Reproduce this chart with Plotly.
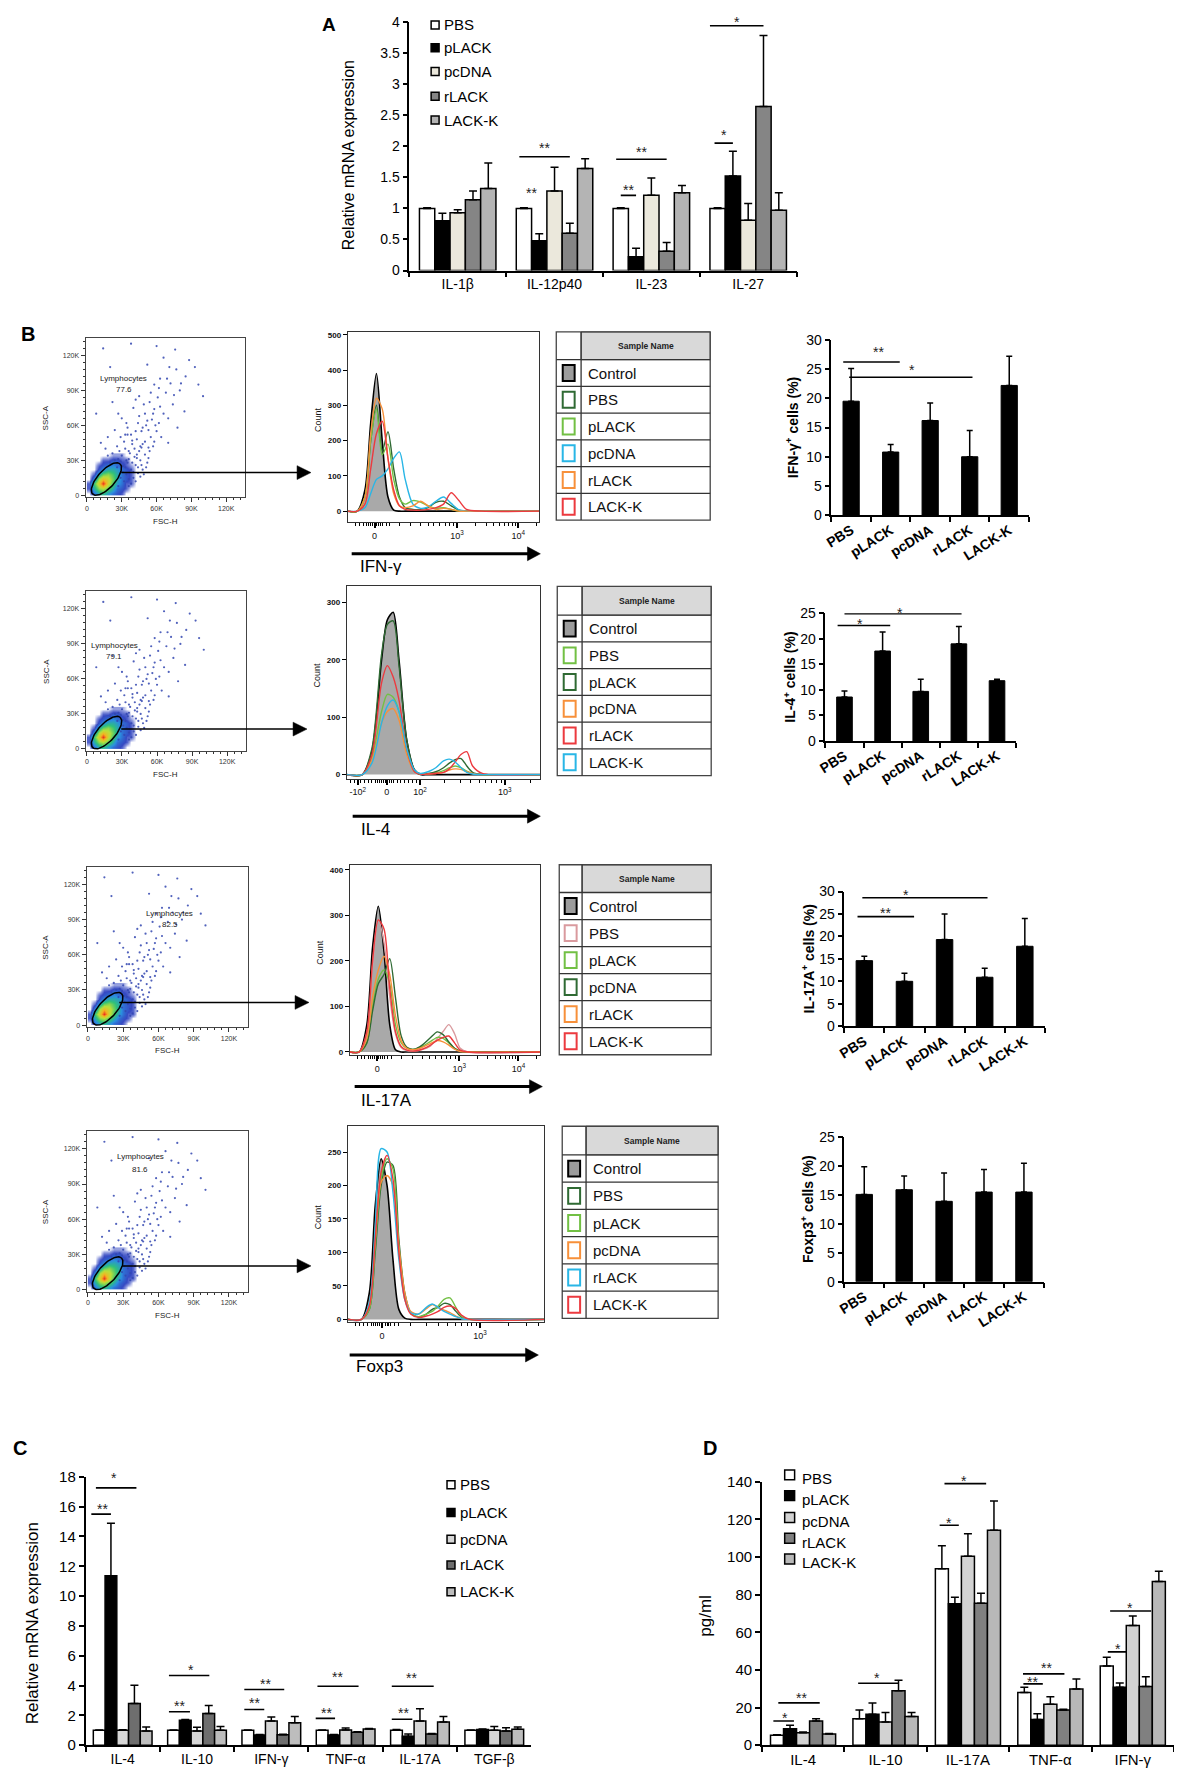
import numpy as np
import plotly.graph_objects as go

PAGE_W, PAGE_H = 1182, 1785
OFF = 8  # default page margin of the html body
W, H = PAGE_W - 2 * OFF, PAGE_H - 2 * OFF
FONT = "Liberation Sans, Arial, Helvetica, sans-serif"

groups = ["PBS", "pLACK", "pcDNA", "rLACK", "LACK-K"]

# ---------------- Panel A data ----------------
a_cats = ["IL-1β", "IL-12p40", "IL-23", "IL-27"]
a_pbs = [1.00, 1.00, 1.00, 1.00]
a_pbs_err = [0.01, 0.01, 0.01, 0.01]
a_plack = [0.80, 0.48, 0.22, 1.52]
a_plack_err = [0.12, 0.11, 0.14, 0.40]
a_pcdna = [0.93, 1.28, 1.21, 0.81]
a_pcdna_err = [0.05, 0.38, 0.28, 0.27]
a_rlack = [1.14, 0.60, 0.31, 2.64]
a_rlack_err = [0.14, 0.16, 0.14, 1.14]
a_lackk = [1.32, 1.64, 1.25, 0.97]
a_lackk_err = [0.41, 0.16, 0.12, 0.28]

# ---------------- Panel B bar data ----------------
b_ifng = [19.5, 10.8, 16.2, 10.0, 22.2]
b_ifng_err = [5.6, 1.3, 3.0, 4.5, 5.0]
b_il4 = [8.6, 17.6, 9.7, 19.0, 11.8]
b_il4_err = [1.2, 3.7, 2.4, 3.4, 0.3]
b_il17 = [14.6, 10.0, 19.3, 10.9, 17.8]
b_il17_err = [1.0, 1.8, 5.7, 2.0, 6.2]
b_foxp3 = [15.1, 15.9, 13.9, 15.5, 15.5]
b_foxp3_err = [4.8, 2.4, 4.9, 3.9, 5.0]

# ---------------- Panel B flow plots ----------------
gate_pct = ["77.6", "79.1", "82.5", "81.6"]
markers = ["IFN-γ", "IL-4", "IL-17A", "Foxp3"]

# scattered events (FSC-H, SSC-A in K)
dot_x = [32, 34, 36, 38, 35, 40, 42, 44, 30, 37, 41, 46, 48, 45, 50, 33, 39, 52, 28, 26,
         43, 48, 53, 55, 47, 58, 51, 60, 44, 56, 62, 38, 35, 64, 66, 58, 50, 70, 54, 61,
         68, 74, 72, 80, 63, 77, 85, 58, 45, 40, 88, 66, 93, 52, 30, 22, 20, 14, 38, 60,
         76, 96, 84, 100, 70, 78, 24, 18, 12, 8, 31, 36, 29, 43, 47, 39, 27, 33,
         27, 29, 31, 33, 36, 38, 40, 42, 44, 46, 34, 39, 43, 47, 49, 51, 53, 36, 41, 46,
         50, 54, 57, 32, 29, 35, 42, 48, 53, 59, 45, 52, 57, 63, 49, 42, 55, 62, 69, 75,
         81, 71, 34, 27, 24, 22, 20, 18, 26, 16]
dot_y = [12, 18, 8, 22, 28, 15, 26, 19, 34, 36, 33, 30, 22, 38, 35, 40, 44, 28, 38, 42,
         48, 44, 41, 50, 55, 46, 60, 55, 62, 65, 62, 52, 58, 50, 70, 74, 70, 66, 80, 84,
         88, 78, 96, 90, 100, 108, 102, 95, 85, 75, 116, 118, 110, 112, 66, 80, 110, 126, 130, 128,
         125, 95, 72, 85, 45, 58, 56, 50, 45, 70, 25, 31, 29, 35, 41, 47, 31, 52,
         8, 15, 20, 24, 14, 10, 20, 12, 24, 16, 30, 28, 32, 26, 18, 24, 32, 38, 40, 42,
         46, 38, 42, 46, 50, 52, 55, 58, 56, 60, 68, 64, 70, 76, 78, 82, 88, 92, 100, 86,
         96, 110, 62, 70, 30, 36, 28, 34, 24, 40]
# dense core (density grid, FSC-H x SSC-A in K)
core_x = [2, 6, 10, 14, 18, 22, 26, 30, 34, 38, 42]
core_y = [2, 6, 10, 14, 18, 22, 26, 30, 34]
core_z = [
    [0, 2, 3.5, 4, 3, 2, 1.5, 1, 0, 0, 0],
    [1, 3.5, 5.5, 6, 5, 3.5, 2, 1.5, 1, 0, 0],
    [1, 4.5, 7, 9.8, 6.5, 4.5, 3, 2, 1, 1, 0],
    [0, 2.5, 6, 7.5, 6.5, 5, 3.5, 2, 1.5, 1, 0],
    [0, 1, 3.5, 5, 5.5, 4.5, 3.5, 2, 1.5, 1, 0],
    [0, 0, 1.5, 2.5, 3.5, 3.5, 3, 2, 1.5, 1, 0],
    [0, 0, 1, 1.5, 2, 2.5, 2, 1.5, 1, 0.5, 0],
    [0, 0, 0, 1, 1, 1.5, 1.5, 1, 1, 0, 0],
    [0, 0, 0, 0, 0, 0.5, 0.5, 0.5, 0, 0, 0],
]

# histograms (x in display units 0-100, counts)
h1_u = [0, 5, 9, 12, 15, 18, 21, 24, 27, 30, 34, 38, 42, 46, 50, 54, 58, 62, 70, 100]
h1_control = [0, 0, 60, 250, 390, 200, 40, 3, 0, 0, 0, 0, 0, 0, 0, 0, 0, 0, 0, 0]
h1_pbs = [0, 0, 40, 200, 300, 170, 225, 120, 40, 10, 5, 5, 10, 25, 28, 15, 3, 0, 0, 0]
h1_plack = [0, 0, 40, 200, 290, 160, 190, 90, 35, 20, 30, 26, 15, 8, 10, 5, 0, 0, 0, 0]
h1_pcdna = [0, 0, 10, 50, 90, 100, 120, 150, 168, 90, 20, 8, 12, 28, 40, 22, 4, 0, 0, 0]
h1_rlack = [0, 0, 40, 220, 320, 290, 150, 50, 15, 10, 15, 28, 15, 5, 8, 5, 0, 0, 0, 0]
h1_lackk = [0, 0, 20, 120, 220, 255, 150, 60, 15, 5, 3, 3, 5, 10, 20, 52, 30, 5, 0, 0]

h2_u = [0, 8, 13, 18, 21, 24, 27, 31, 35, 38, 42, 46, 50, 53, 56, 59, 62, 65, 70, 100]
h2_control = [0, 0, 40, 200, 270, 283, 200, 60, 8, 0, 0, 0, 0, 0, 0, 0, 0, 0, 0, 0]
h2_pbs = [0, 0, 30, 110, 140, 135, 110, 40, 6, 1, 1, 3, 7, 12, 15, 12, 6, 2, 0, 0]
h2_plack = [0, 0, 45, 210, 262, 268, 190, 60, 8, 1, 2, 5, 12, 20, 26, 28, 15, 4, 0, 0]
h2_pcdna = [0, 0, 25, 90, 110, 115, 95, 35, 5, 1, 1, 2, 4, 8, 10, 9, 5, 2, 0, 0]
h2_rlack = [0, 0, 35, 160, 190, 170, 130, 45, 5, 1, 1, 2, 4, 10, 22, 35, 40, 15, 2, 0]
h2_lackk = [0, 0, 20, 90, 120, 130, 110, 45, 8, 2, 5, 12, 24, 27, 22, 12, 4, 1, 0, 0]

h3_u = [0, 5, 9, 12, 15, 18, 21, 24, 27, 30, 34, 38, 42, 46, 49, 52, 55, 58, 62, 100]
h3_control = [0, 0, 60, 230, 320, 220, 60, 5, 0, 0, 0, 0, 0, 0, 0, 0, 0, 0, 0, 0]
h3_pbs = [0, 0, 40, 190, 290, 240, 120, 40, 10, 3, 2, 5, 12, 30, 45, 60, 40, 8, 0, 0]
h3_plack = [0, 0, 20, 100, 160, 180, 150, 60, 20, 8, 6, 12, 22, 32, 30, 20, 8, 2, 0, 0]
h3_pcdna = [0, 0, 20, 90, 150, 170, 205, 120, 35, 10, 6, 15, 30, 44, 38, 22, 8, 2, 0, 0]
h3_rlack = [0, 0, 30, 120, 180, 210, 170, 80, 25, 8, 5, 10, 18, 25, 22, 15, 6, 1, 0, 0]
h3_lackk = [0, 0, 45, 200, 290, 270, 140, 45, 12, 4, 2, 6, 14, 26, 32, 35, 20, 4, 0, 0]

h4_u = [0, 7, 11, 14, 17, 20, 23, 26, 29, 32, 36, 40, 43, 46, 49, 52, 55, 58, 62, 100]
h4_control = [0, 0, 40, 170, 240, 200, 90, 15, 2, 0, 0, 0, 0, 0, 0, 0, 0, 0, 0, 0]
h4_pbs = [0, 0, 15, 100, 200, 235, 230, 120, 40, 10, 4, 8, 15, 18, 24, 22, 12, 3, 0, 0]
h4_plack = [0, 0, 15, 110, 210, 240, 225, 110, 35, 10, 4, 8, 12, 20, 30, 32, 18, 4, 0, 0]
h4_pcdna = [0, 0, 20, 120, 205, 215, 200, 110, 40, 12, 8, 16, 22, 18, 14, 10, 5, 1, 0, 0]
h4_rlack = [0, 0, 25, 140, 255, 250, 190, 90, 30, 10, 8, 18, 23, 18, 12, 8, 4, 1, 0, 0]
h4_lackk = [0, 0, 20, 120, 220, 245, 210, 100, 30, 8, 3, 5, 8, 12, 18, 20, 16, 6, 0, 0]

# ---------------- Panel C data ----------------
c_cats = ["IL-4", "IL-10", "IFN-γ", "TNF-α", "IL-17A", "TGF-β"]
c_pbs = [1.0, 1.0, 1.0, 1.0, 1.0, 1.0]
c_pbs_err = [0.02, 0.02, 0.02, 0.02, 0.05, 0.02]
c_plack = [11.36, 1.67, 0.68, 0.68, 0.60, 1.05]
c_plack_err = [3.52, 0.06, 0.04, 0.04, 0.15, 0.03]
c_pcdna = [1.0, 0.95, 1.63, 1.02, 1.63, 1.0]
c_pcdna_err = [0.03, 0.25, 0.26, 0.13, 0.82, 0.25]
c_rlack = [2.80, 2.12, 0.70, 0.87, 0.75, 0.95]
c_rlack_err = [1.23, 0.55, 0.03, 0.03, 0.03, 0.22]
c_lackk = [0.95, 1.0, 1.51, 1.08, 1.56, 1.07]
c_lackk_err = [0.27, 0.25, 0.41, 0.05, 0.36, 0.15]

# ---------------- Panel D data ----------------
d_cats = ["IL-4", "IL-10", "IL-17A", "TNF-α", "IFN-γ"]
d_pbs = [5.3, 14.1, 93.8, 28.0, 42.1]
d_pbs_err = [0.3, 4.6, 12.2, 2.8, 4.6]
d_plack = [8.8, 16.4, 75.2, 13.7, 30.8]
d_plack_err = [1.8, 6.0, 3.5, 3.0, 2.3]
d_pcdna = [6.7, 12.3, 100.4, 21.8, 63.6]
d_pcdna_err = [0.3, 5.1, 12.0, 3.9, 5.1]
d_rlack = [12.9, 28.9, 75.5, 18.7, 31.2]
d_rlack_err = [1.2, 5.6, 5.3, 0.4, 5.2]
d_lackk = [6.0, 15.3, 114.3, 29.9, 87.0]
d_lackk_err = [0.3, 2.1, 15.5, 5.3, 5.5]

# ======================================================================
BARGAP = 0.21
BW = (1 - BARGAP) / 5

fig = go.Figure()
layout = dict(width=W, height=H, margin=dict(l=0, r=0, t=0, b=0),
              paper_bgcolor="white", plot_bgcolor="white", showlegend=False,
              barmode="group", bargap=BARGAP, bargroupgap=0,
              font=dict(family=FONT, color="black"))
shapes, annots = [], []
geo = {}


def PX(x):  # page px -> paper x
    return (x - OFF) / W


def PY(y):  # page px -> paper y
    return 1 - (y - OFF) / H


def clamp(v):
    return min(1.0, max(0.0, v))


def axn(n, k):
    return k if n == 1 else f"{k}{n}"


def set_axes(n, x0, x1, top, bottom, xo, yo):
    layout["xaxis" if n == 1 else f"xaxis{n}"] = dict(domain=[clamp(PX(x0)), clamp(PX(x1))], anchor=axn(n, "y"), **xo)
    layout["yaxis" if n == 1 else f"yaxis{n}"] = dict(domain=[clamp(PY(bottom)), clamp(PY(top))], anchor=axn(n, "x"), **yo)
    if "range" in yo:
        geo[n] = (top, bottom, yo["range"][0], yo["range"][1])


def ypaper(n, v):
    top, bottom, y0, y1 = geo[n]
    return PY(bottom - (v - y0) / (y1 - y0) * (bottom - top))


def text(x, y, s, size, bold=False, angle=0, xanchor="center", yanchor="middle", color="black"):
    annots.append(dict(x=PX(x), y=PY(y), xref="paper", yref="paper",
                       text=f"<b>{s}</b>" if bold else s, showarrow=False,
                       font=dict(family=FONT, size=size, color=color), textangle=angle,
                       xanchor=xanchor, yanchor=yanchor))


def rect_px(x0, y0, x1, y1, fill, line, lw):
    shapes.append(dict(type="rect", xref="paper", yref="paper", x0=PX(x0), x1=PX(x1),
                       y0=PY(y1), y1=PY(y0), fillcolor=fill,
                       line=dict(color=line, width=lw), layer="above"))


def line_px(x0, y0, x1, y1, color="black", lw=1.0):
    shapes.append(dict(type="line", xref="paper", yref="paper", x0=PX(x0), x1=PX(x1),
                       y0=PY(y0), y1=PY(y1), line=dict(color=color, width=lw), layer="above"))


def arrow(x_tail, x_tip, y, width, head_len, head_half):
    line_px(x_tail, y, x_tip - head_len + 1, y, "black", width)
    path = (f"M {PX(x_tip)},{PY(y)} L {PX(x_tip - head_len)},{PY(y - head_half)} "
            f"L {PX(x_tip - head_len)},{PY(y + head_half)} Z")
    shapes.append(dict(type="path", xref="paper", yref="paper", path=path, fillcolor="black",
                       line=dict(color="black", width=0.5), layer="above"))


def star(n, x, ytxt, label, size=14):
    annots.append(dict(x=x, y=ypaper(n, ytxt), xref=axn(n, "x"), yref="paper", text=label,
                       showarrow=False, font=dict(family=FONT, size=size, color="#222"),
                       yanchor="middle", yshift=-4))


def bracket(n, cat, s0, s1, y, ytxt, label, bw, tslot, size=14):
    xa, ya = axn(n, "x"), axn(n, "y")
    shapes.append(dict(type="line", xref=xa, yref=ya, x0=cat + s0 * bw, x1=cat + s1 * bw,
                       y0=y, y1=y, line=dict(color="black", width=1.6)))
    star(n, cat + tslot * bw, ytxt, label, size)


def bar_axes(n, x0, x1, top, bottom, yrange, dtick, xfont=14, yfont=14, xo_extra=None):
    xo = dict(type="category", showline=True, linecolor="black", linewidth=1.5, ticks="outside",
              tickson="boundaries", ticklen=5, tickwidth=1.5, tickcolor="black", showgrid=False,
              zeroline=False, tickfont=dict(family=FONT, size=xfont, color="black"))
    if xo_extra:
        xo.update(xo_extra)
    yo = dict(range=yrange, dtick=dtick, showline=True, linecolor="black", linewidth=1.5,
              ticks="outside", ticklen=5, tickwidth=1.5, tickcolor="black", showgrid=False,
              zeroline=False, tickfont=dict(family=FONT, size=yfont, color="black"))
    set_axes(n, x0, x1, top, bottom, xo, yo)


def grouped_bars(n, cats, series, colors):
    for (vals, errs), col, name in zip(series, colors, groups):
        fig.add_trace(go.Bar(x=cats, y=vals, name=name,
                             marker=dict(color=col, line=dict(color="black", width=1.5)),
                             error_y=dict(type="data", symmetric=False, array=errs,
                                          arrayminus=[0] * len(vals), color="black",
                                          thickness=1.5, width=4),
                             xaxis=axn(n, "x"), yaxis=axn(n, "y")))


def manual_legend(xsq, xtxt, ys, colors, sq, size, dy_sq=0):
    for y, col, name in zip(ys, colors, groups):
        rect_px(xsq - sq / 2, y + dy_sq - sq / 2, xsq + sq / 2, y + dy_sq + sq / 2, col, "black", 1.5)
        text(xtxt, y, name, size, xanchor="left")


# ---------------- Panel A ----------------
a_colors = ["#ffffff", "#000000", "#ebe8dc", "#858585", "#b4b4b4"]
grouped_bars(1, a_cats,
             [(a_pbs, a_pbs_err), (a_plack, a_plack_err), (a_pcdna, a_pcdna_err),
              (a_rlack, a_rlack_err), (a_lackk, a_lackk_err)], a_colors)
bar_axes(1, 404, 794, 13, 264, [0, 4], 0.5, xfont=14, yfont=14)
text(323, 16, "A", 19, bold=True)
text(343, 148, "Relative mRNA expression", 16, angle=-90)
manual_legend(430, 437, [16, 39, 63, 88, 112], a_colors, 8, 15)
for cat, s0, s1, y, yt, lab in [(1, -2.3, 1.0, 1.83, 2.03, "**"), (2, -2.3, 1.0, 1.79, 1.97, "**"),
                                (2, -2.0, -1.0, 1.21, 1.36, "**"), (3, -2.2, -1.0, 2.05, 2.24, "*"),
                                (3, -2.5, 1.0, 3.94, 4.07, "*")]:
    bracket(1, cat, s0, s1, y, yt, lab, BW, (s0 + s1) / 2)
star(1, 1 - 1.5 * BW, 1.32, "**")

# ---------------- Panel B ----------------
text(20, 328, "B", 20, bold=True)
dot_frames = [(78, 239, 332, 493), (78, 240, 588, 749), (79, 242, 866, 1028), (79, 242, 1133, 1295)]
hist_frames = [(342, 535, 326, 518), (341, 536, 583, 777), (344, 536, 864, 1056), (342, 540, 1128, 1326)]
hist_yr = [[-31, 508], [-7, 328], [-6.5, 411], [-4.4, 288.5]]
hist_dt = [100, 100, 100, 50]
hist_major = [([14, 57, 89], ["0", "10<sup>3</sup>", "10<sup>4</sup>"]),
              ([5.7, 20.7, 37.9, 81.6], ["-10<sup>2</sup>", "0", "10<sup>2</sup>", "10<sup>3</sup>"]),
              ([14.4, 57.4, 88.5], ["0", "10<sup>3</sup>", "10<sup>4</sup>"]),
              ([17.4, 67.3], ["0", "10<sup>3</sup>"])]
hist_minor = [
    [4, 6, 8, 10, 11, 12, 13, 15, 16, 17, 18, 20, 22, 27, 33, 38, 42, 45, 48, 51, 53, 55,
     66.6, 72.3, 76.3, 79.4, 81.9, 84, 85.9, 87.5, 98.6],
    [2, 4, 7, 9, 11, 13, 15, 16, 17, 18, 19, 20, 22, 23, 24, 26, 28, 30, 32, 34, 36,
     50.7, 58.5, 64.1, 68.4, 71.9, 74.9, 77.5, 79.7, 95],
    [4, 6, 8, 10, 11, 12, 13, 15, 16, 17, 18, 20, 22, 27, 33, 38, 42, 45, 48, 51, 53, 55.5,
     67, 72.5, 76.3, 79.3, 81.8, 83.9, 85.6, 87.2, 98],
    [4, 6, 8, 10, 12, 13, 14, 15, 16, 19, 20, 21, 22, 24, 26, 32, 40, 46, 51, 55, 58, 61,
     63, 65.5, 82, 91, 97],
]
hist_u = [h1_u, h2_u, h3_u, h4_u]
hist_data = [
    [h1_control, h1_pbs, h1_plack, h1_pcdna, h1_rlack, h1_lackk],
    [h2_control, h2_pbs, h2_plack, h2_pcdna, h2_rlack, h2_lackk],
    [h3_control, h3_pbs, h3_plack, h3_pcdna, h3_rlack, h3_lackk],
    [h4_control, h4_pbs, h4_plack, h4_pcdna, h4_rlack, h4_lackk],
]
DKG, LTG, CYA, ORA, RED, PNK = "#2f6a33", "#72c044", "#29b6e6", "#f7903a", "#ec3a3f", "#d99a9e"
hist_colors = [[DKG, LTG, CYA, ORA, RED], [LTG, DKG, ORA, RED, CYA],
               [PNK, LTG, DKG, ORA, RED], [DKG, LTG, ORA, CYA, RED]]
legend_boxes = [(552, 577, 707, 326, 354, 27), (553, 578, 708, 583, 612, 27),
                (555, 578, 708, 864, 892, 27.3), (558, 582, 715, 1128, 1157, 27.5)]
label_pos = [(31.6, 100.5, 91), (23.6, 88.8, 79.5), (69.6, 95.5, 85.7), (44.5, 113.4, 102.7)]
gate_arrows = [(114, 305, 468), (114, 301, 727), (112, 303, 1003), (115, 305, 1269)]
big_arrows = [(346, 536, 550, 563, 352), (347, 536, 815, 828, 353),
              (349, 538, 1088, 1102, 353), (344, 534, 1359, 1371, 348)]

bar_rows = [(b_ifng, b_ifng_err, (829, 1028, 334, 511), [0, 30], 789, "IFN-γ<sup>+</sup> cells (%)"),
            (b_il4, b_il4_err, (823, 1015, 610, 739), [0, 25], 787, "IL-4<sup>+</sup> cells (%)"),
            (b_il17, b_il17_err, (842, 1044, 891, 1027), [0, 30], 805, "IL-17A<sup>+</sup> cells (%)"),
            (b_foxp3, b_foxp3_err, (842, 1043, 1139, 1285), [0, 25], 805, "Foxp3<sup>+</sup> cells (%)")]
b_brackets = [
    [(-0.2, 1.23, 26.2, 28.6, "**", 0.7), (-0.05, 3.07, 23.6, 25.6, "*", 1.55)],
    [(-0.18, 1.2, 22.6, 23.6, "*", 0.42), (0.0, 3.07, 24.9, 25.9, "*", 1.46)],
    [(-0.17, 1.24, 24.4, 26.0, "**", 0.52), (-0.05, 3.07, 28.6, 30.1, "*", 1.04)],
    [],
]

# gate geometry (K units)
gate_cx, gate_cy, gate_a, gate_b, gate_ang = 16.8, 14.0, 17.5, 7.5, np.deg2rad(48)
tt = np.linspace(0, 2 * np.pi, 80)
gate_x = gate_cx + gate_a * np.cos(tt) * np.cos(gate_ang) - gate_b * np.sin(tt) * np.sin(gate_ang)
gate_y = gate_cy + gate_a * np.cos(tt) * np.sin(gate_ang) + gate_b * np.sin(tt) * np.cos(gate_ang)

jet = [[0, "rgba(42,63,191,0)"], [0.05, "rgba(42,63,191,0.5)"], [0.12, "rgba(42,63,191,0.95)"],
       [0.26, "#2a8fe0"], [0.42, "#2fc27a"], [0.6, "#b9e03a"], [0.78, "#f5b321"], [1, "#e8231f"]]

for r in range(4):
    # ---- dot plot ----
    n = 2 + r
    x0, x1, top, bottom = dot_frames[r]
    fig.add_trace(go.Scatter(x=dot_x, y=dot_y, mode="markers",
                             marker=dict(size=2.2, color="#3347b0", opacity=0.85),
                             xaxis=axn(n, "x"), yaxis=axn(n, "y")))
    fig.add_trace(go.Heatmap(x=core_x, y=core_y, z=core_z, colorscale=jet, zmin=0, zmax=10,
                             zsmooth="best", showscale=False, hoverinfo="skip",
                             xaxis=axn(n, "x"), yaxis=axn(n, "y")))
    fig.add_trace(go.Scatter(x=gate_x, y=gate_y, mode="lines", line=dict(color="black", width=1.5),
                             xaxis=axn(n, "x"), yaxis=axn(n, "y")))
    dax = dict(range=[-1.2, 136.5], tickvals=[0, 30, 60, 90, 120],
               ticktext=["0", "30K", "60K", "90K", "120K"], ticks="outside", ticklen=4,
               tickcolor="#333", showline=True, mirror=True, linecolor="#444", linewidth=1,
               showgrid=False, zeroline=False, tickfont=dict(family=FONT, size=7, color="#333"),
               minor=dict(ticks="outside", ticklen=2, dtick=6, tick0=0, tickcolor="#333"))
    day = dict(dax)
    day["range"] = [-1.7, 135]
    set_axes(n, x0, x1, top, bottom, dax, day)
    lx, ly1, ly2 = label_pos[r]
    annots.append(dict(x=lx, y=ly1, xref=axn(n, "x"), yref=axn(n, "y"), text="Lymphocytes",
                       showarrow=False, font=dict(family=FONT, size=8, color="#222")))
    annots.append(dict(x=lx, y=ly2, xref=axn(n, "x"), yref=axn(n, "y"), text=gate_pct[r],
                       showarrow=False, font=dict(family=FONT, size=8, color="#222")))
    text(38, (top + bottom) / 2, "SSC-A", 8, angle=-90, color="#222")
    text((x0 + x1) / 2, bottom + 24, "FSC-H", 8, color="#222")
    ga = gate_arrows[r]
    arrow(ga[0], ga[1], ga[2], 1.5, 14, 7)

    # ---- histogram ----
    n = 6 + r
    x0, x1, top, bottom = hist_frames[r]
    ctrl = hist_data[r][0]
    fig.add_trace(go.Scatter(x=hist_u[r], y=ctrl, mode="lines", line=dict(color="black", width=1.6,
                             shape="spline", smoothing=0.8), fill="tozeroy", fillcolor="#a9a9a9",
                             xaxis=axn(n, "x"), yaxis=axn(n, "y")))
    for ys, col in zip(hist_data[r][1:], hist_colors[r]):
        fig.add_trace(go.Scatter(x=hist_u[r], y=ys, mode="lines",
                                 line=dict(color=col, width=1.4, shape="spline", smoothing=0.8),
                                 xaxis=axn(n, "x"), yaxis=axn(n, "y")))
    tv, tx = hist_major[r]
    hx = dict(range=[0, 100], tickvals=tv, ticktext=tx, ticks="outside", ticklen=5, tickwidth=1.5,
              tickcolor="black", showline=True, mirror=True, linecolor="#333", linewidth=1,
              showgrid=False, zeroline=False, tickfont=dict(family=FONT, size=9, color="#111"),
              minor=dict(tickmode="array", tickvals=hist_minor[r], ticks="outside", ticklen=3,
                         tickcolor="black", tickwidth=1))
    hy = dict(range=hist_yr[r], tick0=0, dtick=hist_dt[r], ticks="outside", ticklen=4, tickwidth=1.2,
              tickcolor="black", showline=True, mirror=True, linecolor="#333", linewidth=1,
              showgrid=False, zeroline=False, tickfont=dict(family=FONT, size=8, color="#111", weight="bold"))
    set_axes(n, x0, x1, top, bottom, hx, hy)
    text(x0 - 30, (top + bottom) / 2 - 8, "Count", 9, angle=-90, color="#111")
    bx0, bx1, by, ly, lxx = big_arrows[r]
    arrow(bx0, bx1, by, 3, 13, 7)
    text(lxx, ly, markers[r], 17, xanchor="left")

    # ---- legend table ----
    L0, LD, L1, LT, LH, RH = legend_boxes[r]
    LB = LH + 6 * RH
    rect_px(LD, LT, L1, LH, "#d9d9d9", "#555", 1)
    rect_px(L0, LT, L1, LB, "rgba(0,0,0,0)", "#444", 1.3)
    line_px(LD, LT, LD, LB, "#333", 1.3)
    text((LD + L1) / 2, (LT + LH) / 2, "Sample Name", 8.5, bold=True, color="#222")
    names = ["Control"] + groups
    cols = ["black"] + hist_colors[r]
    for i in range(6):
        yc = LH + (i + 0.5) * RH
        line_px(L0, LH + i * RH, L1, LH + i * RH, "#333", 1.3)
        cxm = (L0 + LD) / 2
        fill = "#9c9c9c" if i == 0 else "white"
        rect_px(cxm - 6, yc - 8, cxm + 6, yc + 8, fill, cols[i], 2)
        text(LD + 5, yc, names[i], 15, xanchor="left", color="#111")

    # ---- bar chart ----
    n = 10 + r
    vals, errs, (x0, x1, top, bottom), yr, ytx, ytitle = bar_rows[r]
    fig.add_trace(go.Bar(x=groups, y=vals, width=0.41, marker=dict(color="black", line=dict(color="black", width=1)),
                         error_y=dict(type="data", symmetric=False, array=errs, arrayminus=[0] * 5,
                                      color="black", thickness=1.5, width=3),
                         xaxis=axn(n, "x"), yaxis=axn(n, "y")))
    bar_axes(n, x0, x1, top, bottom, yr, 5, xfont=14, yfont=14,
             xo_extra=dict(tickangle=-32, tickfont=dict(family=FONT, size=14, color="black", weight="bold")))
    text(ytx, (top + bottom) / 2, ytitle, 14, bold=True, angle=-90)
    for s0, s1, y, yt, lab, ts in b_brackets[r]:
        bracket(n, 0, s0, s1, y, yt, lab, 1, ts)

# ---------------- Panel C ----------------
c_colors = ["#ffffff", "#000000", "#d6d6d6", "#6e6e6e", "#bdbdbd"]
grouped_bars(14, c_cats,
             [(c_pbs, c_pbs_err), (c_plack, c_plack_err), (c_pcdna, c_pcdna_err),
              (c_rlack, c_rlack_err), (c_lackk, c_lackk_err)], c_colors)
bar_axes(14, 78, 527, 1482, 1753, [0, 18], 2, xfont=14, yfont=15)
text(12, 1453, "C", 20, bold=True)
text(25, 1630, "Relative mRNA expression", 17, angle=-90)
manual_legend(446, 453, [1490, 1518, 1545, 1571, 1598], c_colors, 8, 15)
for cat, s0, s1, y, yt, lab, ts in [(0, -2.67, -1.0, 15.5, 16.1, "**", -1.74), (0, -2.28, 1.17, 17.26, 18.2, "*", -0.7),
                                    (1, -2.39, -0.6, 2.25, 2.9, "**", -1.5), (1, -2.39, 1.05, 4.68, 5.3, "*", -0.54),
                                    (2, -2.3, -0.6, 2.4, 3.07, "**", -1.4), (2, -2.3, 1.1, 3.74, 4.4, "**", -0.46),
                                    (3, -2.55, -0.9, 1.8, 2.45, "**", -1.6), (3, -2.4, 1.1, 3.96, 4.86, "**", -0.7),
                                    (4, -2.4, -0.65, 1.74, 2.4, "**", -1.4), (4, -2.4, 1.17, 3.96, 4.8, "**", -0.7)]:
    bracket(14, cat, s0, s1, y, yt, lab, BW, ts)

# ---------------- Panel D ----------------
d_colors = ["#ffffff", "#000000", "#d2d2d2", "#808080", "#b8b8b8"]
grouped_bars(15, d_cats,
             [(d_pbs, d_pbs_err), (d_plack, d_plack_err), (d_pcdna, d_pcdna_err),
              (d_rlack, d_rlack_err), (d_lackk, d_lackk_err)], d_colors)
bar_axes(15, 759, 1174, 1487, 1753, [0, 140], 20, xfont=15, yfont=15)
text(707, 1453, "D", 20, bold=True)
text(702, 1622, "pg/ml", 17, angle=-90)
manual_legend(787, 797, [1484, 1505, 1527, 1548, 1569], d_colors, 10, 15, dy_sq=-4)
for cat, s0, s1, y, yt, lab, ts in [(0, -2.28, -0.7, 12.9, 16.7, "*", -1.4), (0, -1.9, 1.28, 22.5, 27.3, "**", -0.1),
                                    (1, -2.1, 0.97, 32.9, 37.8, "*", -0.65),
                                    (2, -2.17, -0.7, 116.9, 120.4, "*", -1.45), (2, -1.8, 1.4, 139, 142.6, "*", -0.27),
                                    (3, -2.07, -0.58, 32.6, 35.5, "**", -1.35), (3, -2.1, 1.08, 37.9, 43.0, "**", -0.3),
                                    (4, -1.92, -0.46, 49.6, 53.2, "*", -1.1), (4, -1.74, 1.41, 71.3, 74.8, "*", -0.2)]:
    bracket(15, cat, s0, s1, y, yt, lab, BW, ts)

layout["shapes"] = shapes
layout["annotations"] = annots
fig.update_layout(**layout)
fig.write_html("out.html", config={"displayModeBar": False})
